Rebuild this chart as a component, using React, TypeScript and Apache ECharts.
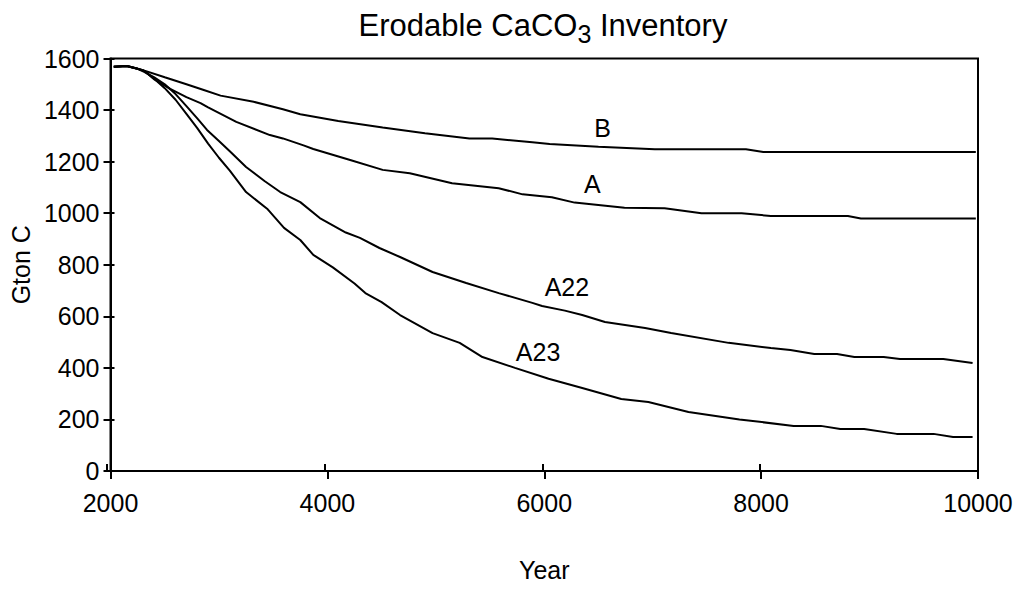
import React, { useEffect, useRef } from "react";
import * as echarts from "echarts";

// ---- Data ----
const yearsB = [2030, 2150, 2250, 2320, 2500, 2700, 2860, 3015, 3320, 3590, 3750, 4100, 4510, 4900, 5310, 5520, 5890, 6050, 6500, 7020, 7860, 8020, 9980];
const valuesB = [1568, 1571, 1560, 1552, 1527, 1500, 1478, 1456, 1432, 1403, 1384, 1358, 1332, 1310, 1290, 1290, 1275, 1268, 1258, 1248, 1248, 1237, 1237];

const yearsA = [2030, 2150, 2250, 2320, 2400, 2550, 2700, 2830, 2900, 3160, 3470, 3590, 3780, 3870, 4210, 4510, 4760, 5150, 5580, 5800, 6070, 6280, 6740, 7110, 7450, 7820, 8090, 8800, 8920, 9980];
const valuesA = [1568, 1571, 1560, 1550, 1520, 1482, 1450, 1427, 1410, 1354, 1303, 1290, 1263, 1249, 1206, 1168, 1155, 1116, 1097, 1073, 1062, 1041, 1021, 1019, 1000, 1000, 989, 989, 979, 979];

const yearsA22 = [2030, 2150, 2250, 2310, 2400, 2500, 2600, 2700, 2800, 2890, 3000, 3100, 3250, 3420, 3565, 3750, 3930, 4170, 4300, 4480, 4670, 4970, 5280, 5580, 5890, 5980, 6190, 6350, 6560, 6930, 7170, 7700, 8090, 8270, 8490, 8700, 8860, 9130, 9280, 9680, 9950];
const valuesA22 = [1568, 1571, 1560, 1548, 1528, 1500, 1462, 1415, 1368, 1323, 1280, 1240, 1179, 1125, 1082, 1043, 981, 925, 904, 865, 830, 772, 729, 690, 652, 640, 622, 605, 578, 555, 535, 497, 477, 469, 454, 454, 442, 442, 434, 434, 419];

const yearsA23 = [2030, 2150, 2250, 2300, 2400, 2500, 2600, 2700, 2800, 2900, 3000, 3100, 3250, 3450, 3600, 3750, 3870, 4050, 4250, 4350, 4500, 4670, 4970, 5220, 5430, 5730, 6040, 6350, 6710, 6960, 7330, 7800, 8300, 8550, 8730, 8950, 9250, 9590, 9770, 9950];
const valuesA23 = [1568, 1571, 1560, 1555, 1522, 1485, 1440, 1385, 1330, 1270, 1215, 1165, 1082, 1015, 943, 896, 838, 790, 727, 690, 655, 605, 535, 497, 442, 400, 358, 322, 279, 268, 229, 200, 175, 175, 163, 163, 144, 144, 132, 132];

const curveNames = ["B", "A", "A22", "A23"];
const labelYears = [6539, 6443, 6209, 5943];
const labelValues = [1332, 1113, 712, 461];

const xMin = 2000;
const xMax = 10000;
const xInterval = 2000;
const yMin = 0;
const yMax = 1600;
const yInterval = 200;

export default function App() {
  const ref = useRef<HTMLDivElement>(null);

  useEffect(() => {
    if (!ref.current) return;
    const chart = echarts.init(ref.current, null, { renderer: "svg" });
    const font = "'Liberation Sans', Arial, Helvetica, sans-serif";
    const fs = 25;
    const gridRect = { left: 106.5, right: 40, top: 58.5, bottom: 118 };

    const pairs = (ys: number[], vs: number[]) => ys.map((y, i) => [y, vs[i]]);
    const allYears = [yearsB, yearsA, yearsA22, yearsA23];
    const allValues = [valuesB, valuesA, valuesA22, valuesA23];

    const lineSeries = curveNames.map((name, i) => ({
      name,
      type: "line",
      xAxisIndex: 0,
      yAxisIndex: 0,
      data: pairs(allYears[i], allValues[i]),
      showSymbol: false,
      symbol: "none",
      smooth: false,
      lineStyle: { color: "#000", width: 2 },
      z: 3,
    }));

    const labelSeries = {
      type: "scatter",
      xAxisIndex: 0,
      yAxisIndex: 0,
      symbolSize: 1,
      itemStyle: { color: "rgba(0,0,0,0)" },
      data: curveNames.map((n, i) => ({ value: [labelYears[i], labelValues[i]], name: n })),
      label: {
        show: true,
        position: "inside",
        formatter: (p: any) => p.name,
        color: "#000",
        opacity: 1,
        textBorderWidth: 0,
        textBorderColor: "transparent",
        fontSize: fs,
        fontFamily: font,
      },
      emphasis: { disabled: true },
      z: 4,
    };

    const axisLineStyle = { lineStyle: { color: "#000", width: 2 } };
    const plain = (v: number) => String(v);

    chart.setOption({
      animation: false,
      backgroundColor: "#fff",
      textStyle: { fontFamily: font, color: "#000" },
      grid: [
        { ...gridRect, show: true, borderColor: "#000", borderWidth: 2, backgroundColor: "transparent" },
        { ...gridRect, show: false },
      ],
      xAxis: [
        {
          type: "value",
          gridIndex: 0,
          min: xMin,
          max: xMax,
          interval: xInterval,
          axisLine: { show: true, ...axisLineStyle },
          axisTick: { show: true, inside: false, length: 8, lineStyle: { color: "#000", width: 2 } },
          splitLine: { show: false },
          axisLabel: { color: "#000", fontSize: fs, fontFamily: font, margin: 19, formatter: plain },
          name: "Year",
          nameLocation: "middle",
          nameGap: 86,
          nameTextStyle: { color: "#000", fontSize: fs, fontFamily: font },
        },
        {
          type: "value",
          gridIndex: 1,
          min: xMin,
          max: xMax,
          interval: xInterval,
          axisLine: { show: false },
          axisTick: { show: true, inside: true, length: 7, lineStyle: { color: "#000", width: 2 } },
          splitLine: { show: false },
          axisLabel: { show: false },
        },
      ],
      yAxis: [
        {
          type: "value",
          gridIndex: 0,
          min: yMin,
          max: yMax,
          interval: yInterval,
          axisLine: { show: true, ...axisLineStyle },
          axisTick: { show: true, inside: false, length: 7, lineStyle: { color: "#000", width: 2 } },
          splitLine: { show: false },
          axisLabel: { color: "#000", fontSize: fs, fontFamily: font, margin: 11, formatter: plain },
          name: "Gton C",
          nameLocation: "middle",
          nameGap: 70,
          nameRotate: 90,
          nameTextStyle: { color: "#000", fontSize: fs, fontFamily: font },
        },
        {
          type: "value",
          gridIndex: 1,
          min: yMin,
          max: yMax,
          interval: yInterval,
          axisLine: { show: false },
          axisTick: { show: true, inside: true, length: 8, lineStyle: { color: "#000", width: 2 } },
          splitLine: { show: false },
          axisLabel: { show: false },
        },
      ],
      graphic: [
        {
          type: "text",
          x: 543,
          y: 7,
          style: {
            text: "{a|Erodable CaCO}{s|3}{a| Inventory}",
            align: "center",
            verticalAlign: "top",
            fill: "#000",
            rich: {
              a: { fontSize: 31, lineHeight: 36, fontFamily: font, fill: "#000" },
              s: { fontSize: 25, lineHeight: 25, padding: [18, 0, 0, 0], fontFamily: font, fill: "#000" },
            },
          },
        },
      ],
      series: [...lineSeries, labelSeries],
    });

    return () => chart.dispose();
  }, []);

  return (
    <div
      ref={ref}
      style={{ position: "fixed", left: 0, top: 0, width: 1018, height: 589, background: "#fff" }}
    />
  );
}
